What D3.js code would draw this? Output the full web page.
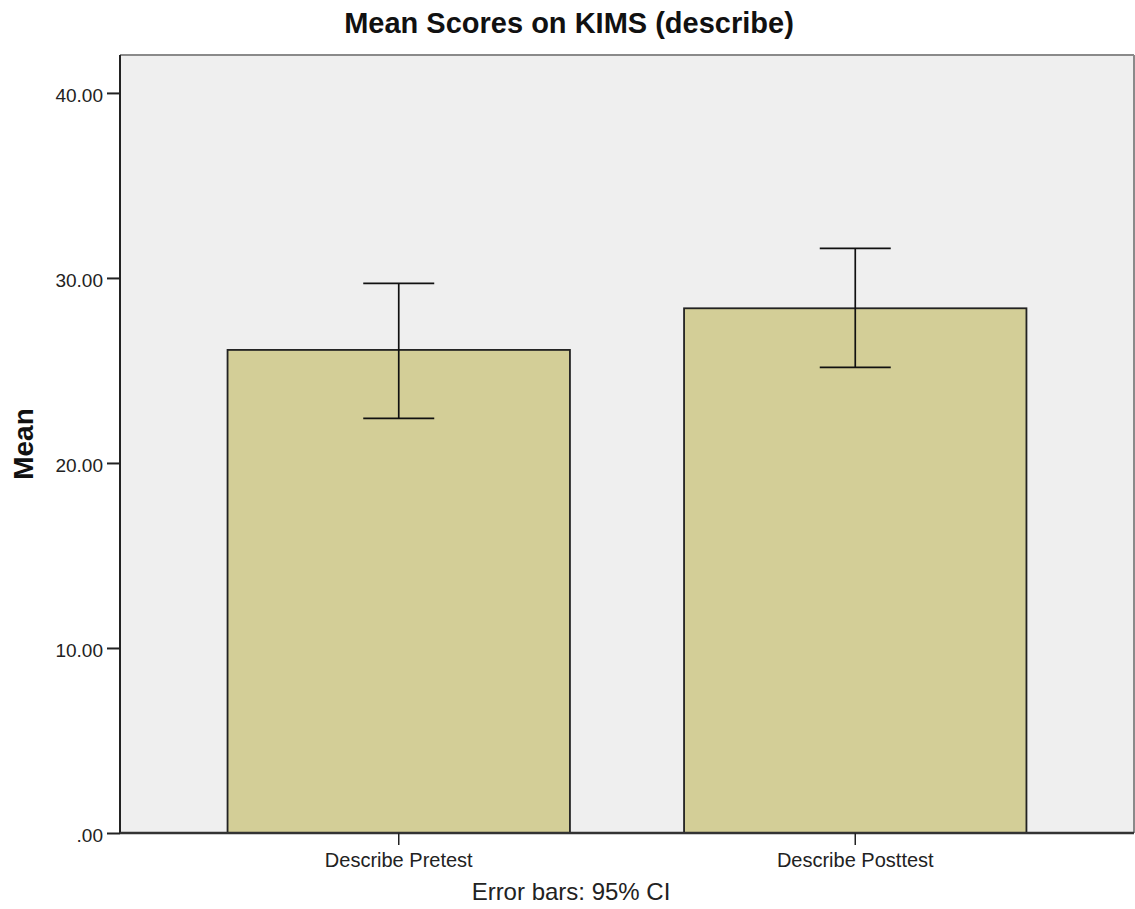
<!DOCTYPE html>
<html>
<head>
<meta charset="utf-8">
<script src="https://cdn.jsdelivr.net/npm/d3@7"></script>
<style>
  html, body { margin: 0; padding: 0; background: #ffffff; }
  svg { display: block; font-family: "Liberation Sans", Arial, sans-serif; }
</style>
</head>
<body>
<svg id="chart" width="1135" height="909"></svg>
<script>
// Mean KIMS "describe" scores with 95% confidence intervals
const categories = ["Describe Pretest", "Describe Posttest"];
const means      = [26.11, 28.36];
const ciLower    = [22.41, 25.17];
const ciUpper    = [29.71, 31.60];
const yTicks      = [0, 10, 20, 30, 40];
const yTickLabels = [".00", "10.00", "20.00", "30.00", "40.00"];

const plot = { left: 120, right: 1134, top: 55, bottom: 833 };

const svg = d3.select("#chart");

const x = d3.scaleBand()
  .domain(categories)
  .range([plot.left, plot.right])
  .paddingInner(0.25)
  .paddingOuter(0.2356);

const y = d3.scaleLinear()
  .domain([0, 42.05])
  .range([plot.bottom, plot.top]);

// plot background
svg.append("rect")
  .attr("x", plot.left).attr("y", plot.top)
  .attr("width", plot.right - plot.left)
  .attr("height", plot.bottom - plot.top)
  .attr("fill", "#efefef");

// frame: top and right edges
svg.append("line")
  .attr("x1", plot.left).attr("x2", plot.right)
  .attr("y1", plot.top).attr("y2", plot.top)
  .attr("stroke", "#8a8a8a").attr("stroke-width", 2);
svg.append("line")
  .attr("x1", plot.right).attr("x2", plot.right)
  .attr("y1", plot.top).attr("y2", plot.bottom)
  .attr("stroke", "#8a8a8a").attr("stroke-width", 2);

// bars
svg.selectAll("rect.bar")
  .data(categories)
  .enter().append("rect")
  .attr("class", "bar")
  .attr("x", d => x(d))
  .attr("y", (d, i) => y(means[i]))
  .attr("width", x.bandwidth())
  .attr("height", (d, i) => y(0) - y(means[i]))
  .attr("fill", "#d3ce97")
  .attr("stroke", "#222")
  .attr("stroke-width", 1.8);

// error bars
const capHalf = 35.5;
const eb = svg.selectAll("g.err")
  .data(categories)
  .enter().append("g")
  .attr("class", "err")
  .attr("stroke", "#111")
  .attr("stroke-width", 1.7);
eb.append("line")
  .attr("x1", d => x(d) + x.bandwidth() / 2)
  .attr("x2", d => x(d) + x.bandwidth() / 2)
  .attr("y1", (d, i) => y(ciLower[i]))
  .attr("y2", (d, i) => y(ciUpper[i]));
eb.append("line")
  .attr("x1", d => x(d) + x.bandwidth() / 2 - capHalf)
  .attr("x2", d => x(d) + x.bandwidth() / 2 + capHalf)
  .attr("y1", (d, i) => y(ciUpper[i]))
  .attr("y2", (d, i) => y(ciUpper[i]));
eb.append("line")
  .attr("x1", d => x(d) + x.bandwidth() / 2 - capHalf)
  .attr("x2", d => x(d) + x.bandwidth() / 2 + capHalf)
  .attr("y1", (d, i) => y(ciLower[i]))
  .attr("y2", (d, i) => y(ciLower[i]));

// y axis
const yAxis = svg.append("g")
  .attr("transform", `translate(${plot.left},0)`)
  .call(d3.axisLeft(y)
    .tickValues(yTicks)
    .tickFormat((d, i) => yTickLabels[i])
    .tickSize(13)
    .tickPadding(4));
yAxis.select(".domain")
  .attr("d", `M0,${plot.top}V${plot.bottom}`)
  .attr("stroke", "#222").attr("stroke-width", 2);
yAxis.selectAll(".tick line").attr("stroke", "#222").attr("stroke-width", 2);
yAxis.selectAll(".tick text")
  .attr("fill", "#222")
  .style("font-size", "19px")
  .attr("dy", "0.45em");

// x axis
const xAxis = svg.append("g")
  .attr("transform", `translate(0,${plot.bottom})`)
  .call(d3.axisBottom(x).tickSize(12).tickPadding(8));
xAxis.select(".domain")
  .attr("d", `M${plot.left},0H${plot.right}`)
  .attr("stroke", "#333").attr("stroke-width", 2.5);
xAxis.selectAll(".tick line").attr("stroke", "#222").attr("stroke-width", 1.5);
xAxis.selectAll(".tick text")
  .attr("fill", "#222")
  .style("font-size", "20px");

// title
svg.append("text")
  .attr("x", 569).attr("y", 33)
  .attr("text-anchor", "middle")
  .style("font-size", "29px")
  .style("font-weight", "bold")
  .attr("fill", "#111")
  .text("Mean Scores on KIMS (describe)");

// y axis title
svg.append("text")
  .attr("transform", "translate(33,444) rotate(-90)")
  .attr("text-anchor", "middle")
  .style("font-size", "28px")
  .style("font-weight", "bold")
  .attr("fill", "#111")
  .text("Mean");

// footnote
svg.append("text")
  .attr("x", 571).attr("y", 900)
  .attr("text-anchor", "middle")
  .style("font-size", "24px")
  .attr("fill", "#222")
  .text("Error bars: 95% CI");
</script>
</body>
</html>
